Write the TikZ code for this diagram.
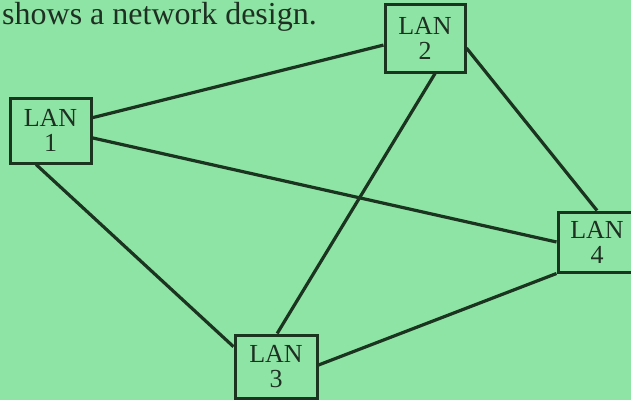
\documentclass[tikz,border=0pt]{standalone}
\usepackage{fontspec}
\setmainfont{Liberation Serif}
\definecolor{bggreen}{RGB}{142,228,164}
\definecolor{inkgreen}{RGB}{26,52,32}
\definecolor{textgreen}{RGB}{30,48,34}
\tikzset{
  lanbox/.style={draw=inkgreen, line width=3pt, inner sep=0pt, align=center,
    text=textgreen, font=\fontsize{26}{25}\selectfont},
  link/.style={draw=inkgreen, line width=3.2pt},
}
\begin{document}
\begin{tikzpicture}[x=1pt,y=1pt]
\useasboundingbox (0,0) rectangle (631,400);
\clip (0,0) rectangle (631,400);
\fill[bggreen] (0,0) rectangle (631,400);
\node[anchor=base west, inner sep=0pt, text=textgreen, font=\fontsize{32}{32}\selectfont] (title) at (2,375.5) {shows a network design.};
\node[lanbox, minimum width=81pt, minimum height=65pt] (lan1) at (50.5,269.5) {LAN\\1};
\node[lanbox, minimum width=80pt, minimum height=67pt] (lan2) at (425,361.5) {LAN\\2};
\node[lanbox, minimum width=82pt, minimum height=63pt] (lan3) at (276,33.5) {LAN\\3};
\node[lanbox, minimum width=78pt, minimum height=60pt] (lan4) at (597,158) {LAN\\4};
\draw[link] (lan1.17) -- (lan2.189);
\draw[link] (lan1.-10.5) -- (lan4.180);
\draw[link] (lan1.247) -- (lan3.155.7);
\draw[link] (lan2.286.6) -- (lan3.88.2);
\draw[link] (lan2.-13) -- (lan4.90);
\draw[link] (lan3.2) -- (lan4.south west);
\end{tikzpicture}
\end{document}
